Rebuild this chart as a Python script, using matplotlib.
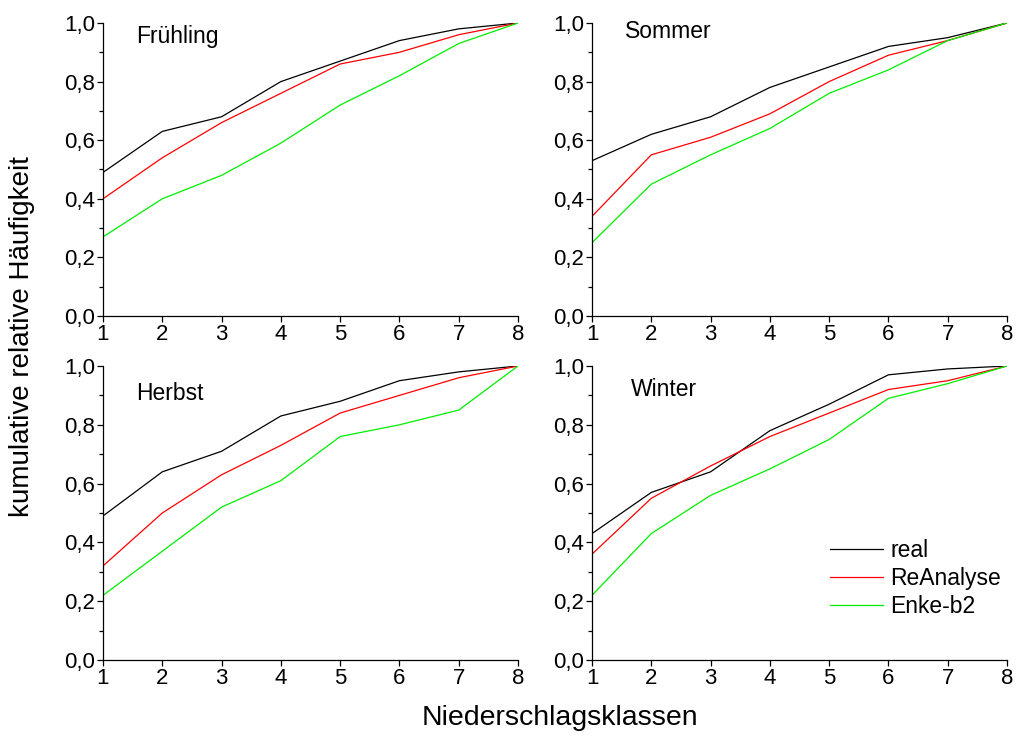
import numpy as np
import matplotlib
matplotlib.use('Agg')
import matplotlib.pyplot as plt
from matplotlib.ticker import MultipleLocator, FuncFormatter

plt.rcParams['font.family'] = ['Liberation Sans', 'DejaVu Sans']

# ----- Data: cumulative relative frequency per precipitation class -----
klassen = [1, 2, 3, 4, 5, 6, 7, 8]

fruehling_real = [0.49, 0.63, 0.68, 0.80, 0.87, 0.94, 0.98, 1.00]
fruehling_rea  = [0.40, 0.54, 0.66, 0.76, 0.86, 0.90, 0.96, 1.00]
fruehling_enke = [0.27, 0.40, 0.48, 0.59, 0.72, 0.82, 0.93, 1.00]

sommer_real = [0.53, 0.62, 0.68, 0.78, 0.85, 0.92, 0.95, 1.00]
sommer_rea  = [0.34, 0.55, 0.61, 0.69, 0.80, 0.89, 0.94, 1.00]
sommer_enke = [0.25, 0.45, 0.55, 0.64, 0.76, 0.84, 0.94, 1.00]

herbst_real = [0.49, 0.64, 0.71, 0.83, 0.88, 0.95, 0.98, 1.00]
herbst_rea  = [0.32, 0.50, 0.63, 0.73, 0.84, 0.90, 0.96, 1.00]
herbst_enke = [0.22, 0.37, 0.52, 0.61, 0.76, 0.80, 0.85, 1.00]

winter_real = [0.43, 0.57, 0.64, 0.78, 0.87, 0.97, 0.99, 1.00]
winter_rea  = [0.36, 0.55, 0.66, 0.76, 0.84, 0.92, 0.95, 1.00]
winter_enke = [0.22, 0.43, 0.56, 0.65, 0.75, 0.89, 0.94, 1.00]

panels = [
    ('Frühling', fruehling_real, fruehling_rea, fruehling_enke),
    ('Sommer', sommer_real, sommer_rea, sommer_enke),
    ('Herbst', herbst_real, herbst_rea, herbst_enke),
    ('Winter', winter_real, winter_rea, winter_enke),
]
series_names = ['real', 'ReAnalyse', 'Enke-b2']
colors = ['black', '#ff0000', '#00ee00']

W, H = 1016, 736
fig = plt.figure(figsize=(W / 100, H / 100), dpi=100)

# axes boxes in pixels: (left, right, top, bottom)
boxes = [(103, 518, 23, 316), (592, 1007, 23, 316),
         (103, 518, 366, 660), (592, 1007, 366, 660)]
title_pos = [(136, 37), (625, 31), (136, 394), (631, 389)]

comma = FuncFormatter(lambda v, p: f'{v:.1f}'.replace('.', ','))

axes = []
for (l, r, t, b), (name, *ys) in zip(boxes, panels):
    ax = fig.add_axes([l / W, 1 - b / H, (r - l) / W, (b - t) / H])
    for y, c, lab in zip(ys, colors, series_names):
        ax.plot(klassen, y, color=c, lw=0.9, label=lab)
    ax.set_xlim(1, 8)
    ax.set_ylim(0, 1)
    ax.xaxis.set_major_locator(MultipleLocator(1))
    ax.yaxis.set_major_locator(MultipleLocator(0.2))
    ax.yaxis.set_minor_locator(MultipleLocator(0.1))
    ax.yaxis.set_major_formatter(comma)
    for s in ('top', 'right'):
        ax.spines[s].set_visible(False)
    for s in ('left', 'bottom'):
        ax.spines[s].set_linewidth(0.9)
    ax.tick_params(which='major', direction='out', length=4, width=0.9,
                   labelsize=16, pad=1.5)
    ax.tick_params(which='minor', direction='out', length=3, width=0.9)
    axes.append(ax)

for (x, y), (name, *_) in zip(title_pos, panels):
    fig.text(x / W, 1 - y / H, name, fontsize=16.5, va='center', ha='left')

leg = axes[3].legend(loc='upper left', bbox_to_anchor=(0.573, 0.41),
                     frameon=False, fontsize=16.5, handlelength=2.3,
                     handletextpad=0.35, labelspacing=0.2, borderpad=0,
                     borderaxespad=0)

fig.text(560 / W, 1 - 718 / H, 'Niederschlagsklassen', fontsize=20.5,
         ha='center', va='center')
fig.text(22 / W, 1 - 337 / H, 'kumulative relative Häufigkeit', fontsize=20,
         ha='center', va='center', rotation=90)

fig.savefig('out.png', dpi=100)
